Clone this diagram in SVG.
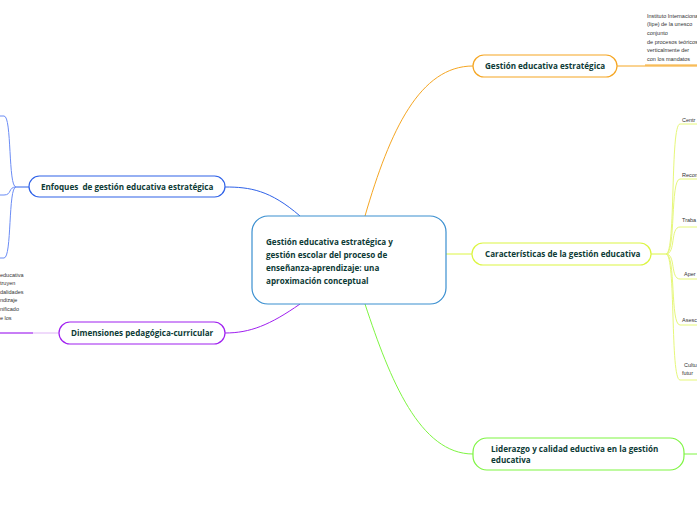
<svg xmlns="http://www.w3.org/2000/svg" width="697" height="520" viewBox="0 0 697 520">
<style>
.n{fill:#fff;stroke-width:1.2}
.t{font-family:"Open Sans","Liberation Sans",sans-serif;font-weight:bold;font-size:8.1px;fill:#0d3b36}
.s{font-family:"Liberation Sans",sans-serif;font-size:5.5px;fill:#333}
.c{fill:none;stroke-width:1}
</style>
<rect width="697" height="520" fill="#fff"/>
<g id="connectors">
<path class="c" stroke="#f5a623" d="M365,216 C390,130 420,66 473,66"/>
<path class="c" stroke="#f5a623" d="M617,66 H697"/>
<path class="c" stroke="#f5a623" stroke-width="2" d="M645,65 H697"/>
<path class="c" stroke="#dcf542" d="M446,254 H472"/>
<path class="c" stroke="#dcf542" stroke-width="2" d="M651,254 H666"/>
<g class="c" stroke="#e6f77a">
<path d="M666,254 C676,254 670,124 680,124 H697"/>
<path d="M666,254 C676,254 670,179 680,179 H697"/>
<path d="M666,254 C676,254 670,227 680,227 H697"/>
<path d="M666,254 C676,254 670,279 680,279 H697"/>
<path d="M666,254 C676,254 670,325 680,325 H697"/>
<path d="M666,254 C676,254 670,380 680,380 H697"/>
</g>
<path class="c" stroke="#7ef542" d="M365,304 C390,380 420,454 473,454"/>
<path class="c" stroke="#7ef542" d="M684,454 H697"/>
<path class="c" stroke="#2f62e8" d="M300,216 C270,190 250,187 225,187"/>
<path class="c" stroke="#2f62e8" stroke-width="2" d="M29,187 H16"/>
<g class="c" stroke="#6b8cf5">
<path d="M16,187 C8,187 12,116 4,116 H0"/>
<path d="M16,187 C8,187 12,195 4,195 H0"/>
<path d="M16,187 C8,187 12,258 4,258 H0"/>
</g>
<path class="c" stroke="#a020f0" d="M300,304 C270,325 250,333 225,333"/>
<path class="c" stroke="#e0b5f7" d="M59,333 H0"/>
<path class="c" stroke="#a020f0" stroke-width="2" d="M33,333 H0"/>
</g>
<g id="center">
<rect class="n" stroke="#3a8fd0" x="252" y="216" width="194" height="88" rx="16"/>
<text class="t" font-size="10px" x="266" y="245">Gestión educativa estratégica y</text>
<text class="t" font-size="10px" x="266" y="258">gestión escolar del proceso de</text>
<text class="t" font-size="10px" x="266" y="271">enseñanza-aprendizaje: una</text>
<text class="t" font-size="10px" x="266" y="284">aproximación conceptual</text>
</g>
<g id="gestion">
<rect class="n" stroke="#f5a623" x="473" y="55" width="144" height="22" rx="11"/>
<text class="t" x="485" y="69">Gestión educativa estratégica</text>
<text class="s" x="647" y="18">Instituto Internacional</text>
<text class="s" x="647" y="26">(Iipe) de la unesco</text>
<text class="s" x="647" y="35">conjunto</text>
<text class="s" x="647" y="44">de procesos teóricos</text>
<text class="s" x="647" y="52">verticalmente der</text>
<text class="s" x="647" y="61">con los mandatos</text>
</g>
<g id="caracteristicas">
<rect class="n" stroke="#dcf542" x="472" y="243" width="179" height="22" rx="11"/>
<text class="t" x="485" y="257">Características de la gestión educativa</text>
<text class="s" x="682" y="122">Centr</text>
<text class="s" x="682" y="177">Recon</text>
<text class="s" x="682" y="222">Traba</text>
<text class="s" x="684" y="276">Aper</text>
<text class="s" x="682" y="322">Asesc</text>
<text class="s" x="684" y="367">Cultu</text>
<text class="s" x="682" y="375">futur</text>
</g>
<g id="liderazgo">
<rect class="n" stroke="#7ef542" x="473" y="438" width="211" height="32" rx="14"/>
<text class="t" x="491" y="452">Liderazgo y calidad eductiva en la gestión</text>
<text class="t" x="491" y="463">educativa</text>
</g>
<g id="enfoques">
<rect class="n" stroke="#2f62e8" x="29" y="176" width="196" height="21" rx="10.5"/>
<text class="t" x="41" y="190" xml:space="preserve">Enfoques  de gestión educativa estratégica</text>
</g>
<g id="dimensiones">
<rect class="n" stroke="#a020f0" x="59" y="322" width="166" height="22" rx="11"/>
<text class="t" x="71" y="336">Dimensiones pedagógica-curricular</text>
<text class="s" x="0" y="277">educativa</text>
<text class="s" x="0" y="285">truyen</text>
<text class="s" x="0" y="294">dalidades</text>
<text class="s" x="0" y="302">ndizaje</text>
<text class="s" x="0" y="311">nificado</text>
<text class="s" x="0" y="320">e los</text>
</g>
</svg>
